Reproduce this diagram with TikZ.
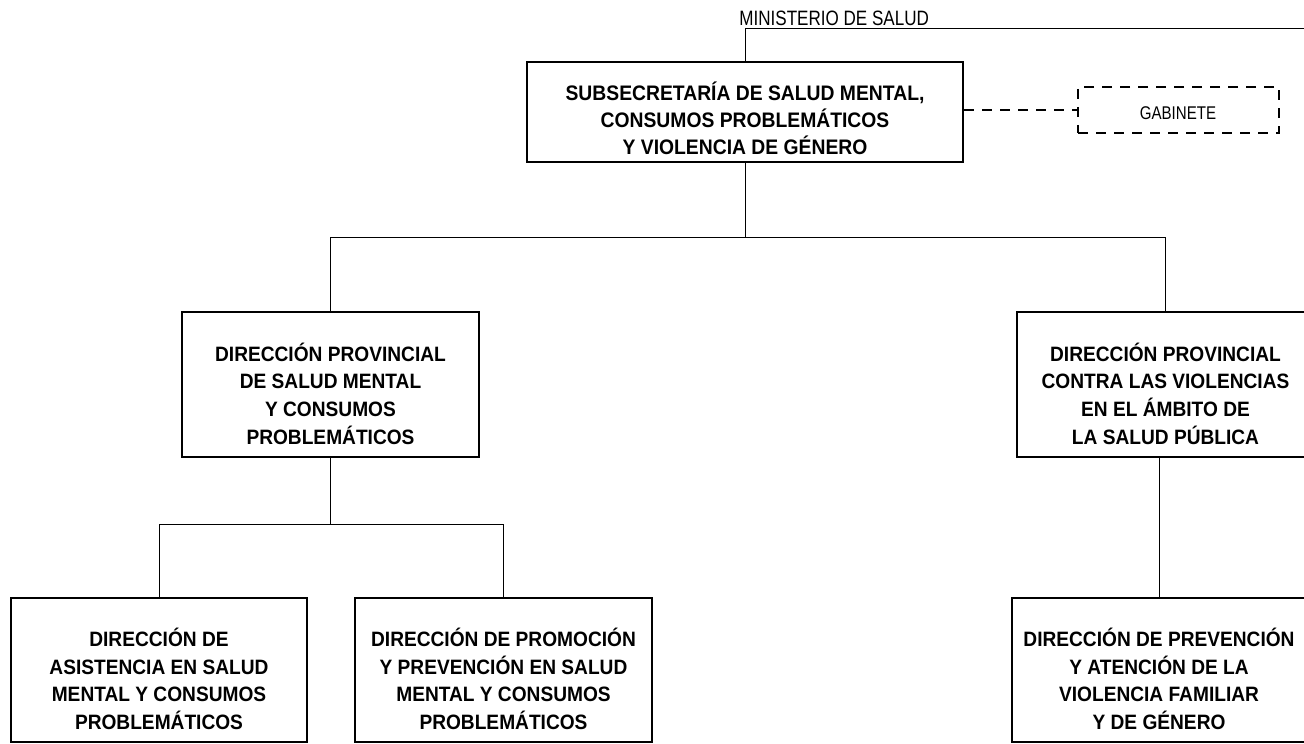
\documentclass[tikz,border=0pt]{standalone}
\usepackage{fontspec}
\setmainfont{Liberation Sans}
\newfontfamily\angosta[FakeStretch=0.82]{Liberation Sans}
\newfontfamily\negrita[FakeStretch=0.92]{Liberation Sans}
\tikzset{
  caja/.style={draw, line width=1pt, rectangle, inner sep=0pt},
  texto/.style={align=center, inner sep=0pt, font=\negrita\fontsize{10.4}{13.8}\selectfont\bfseries},
  linea/.style={line width=0.5pt},
  rayas/.style={line width=1.2pt, dash pattern=on 5pt off 4pt},
}
\begin{document}
\begin{tikzpicture}[x=0.5pt,y=-0.5pt]
    \useasboundingbox (0,0) rectangle (1304,743);

    %Cajas
    \node[caja, minimum width=218pt, minimum height=50pt] (sub) at (745,112) {};
    \node[caja, rayas, minimum width=100.5pt, minimum height=23pt] (gab) at (1178.5,110) {};
    \node[caja, minimum width=148.5pt, minimum height=72.5pt] (dpsm) at (330.5,384.5) {};
    \node[caja, minimum width=148.5pt, minimum height=72.5pt] (dpcv) at (1165.5,384.5) {};
    \node[caja, minimum width=148pt, minimum height=72pt] (dasm) at (159,670) {};
    \node[caja, minimum width=148.5pt, minimum height=72pt] (dppm) at (503.5,670) {};
    \node[caja, minimum width=147pt, minimum height=72pt] (dpav) at (1159,670) {};

    %Textos
    \node[anchor=base west, inner sep=0pt, font=\angosta\fontsize{10.4}{12}\selectfont] (min) at (739,26) {MINISTERIO DE SALUD};
    \node[inner sep=0pt, font=\angosta\fontsize{9.2}{11}\selectfont] (gab-t) at (1178,113) {GABINETE};
    \node[texto, font=\negrita\fontsize{10.5}{13.5}\selectfont\bfseries] (sub-t) at ([yshift=-3pt]sub.center) {SUBSECRETARÍA DE SALUD MENTAL,\\CONSUMOS PROBLEMÁTICOS\\Y VIOLENCIA DE GÉNERO};
    \node[texto] (dpsm-t) at ([yshift=-4.5pt]dpsm.center) {DIRECCIÓN PROVINCIAL\\DE SALUD MENTAL\\Y CONSUMOS\\PROBLEMÁTICOS};
    \node[texto] (dpcv-t) at ([yshift=-4.5pt]dpcv.center) {DIRECCIÓN PROVINCIAL\\CONTRA LAS VIOLENCIAS\\EN EL ÁMBITO DE\\LA SALUD PÚBLICA};
    \node[texto] (dasm-t) at ([yshift=-4.5pt]dasm.center) {DIRECCIÓN DE\\ASISTENCIA EN SALUD\\MENTAL Y CONSUMOS\\PROBLEMÁTICOS};
    \node[texto] (dppm-t) at ([yshift=-4.5pt]dppm.center) {DIRECCIÓN DE PROMOCIÓN\\Y PREVENCIÓN EN SALUD\\MENTAL Y CONSUMOS\\PROBLEMÁTICOS};
    \node[texto] (dpav-t) at ([yshift=-4.5pt]dpav.center) {DIRECCIÓN DE PREVENCIÓN\\Y ATENCIÓN DE LA\\VIOLENCIA FAMILIAR\\Y DE GÉNERO};

    %Lineas
    \coordinate (minr) at (1304,29);
    \coordinate (r1) at (745,237);
    \coordinate (r2) at (330.5,524);
    \draw[linea] (sub.north) -- (sub.north |- minr) -- (minr);
    \draw[rayas] (sub.east |- gab) -- (gab.west);
    \draw[linea] (sub.south) -- (r1);
    \draw[linea] (dpsm.north) -- (dpsm.north |- r1) -- (dpcv.north |- r1) -- (dpcv.north);
    \draw[linea] (dpsm.south) -- (r2);
    \draw[linea] (dasm.north) -- (dasm.north |- r2) -- (dppm.north |- r2) -- (dppm.north);
    \draw[linea] (dpav.north) -- (dpav.north |- dpcv.south);
\end{tikzpicture}
\end{document}
